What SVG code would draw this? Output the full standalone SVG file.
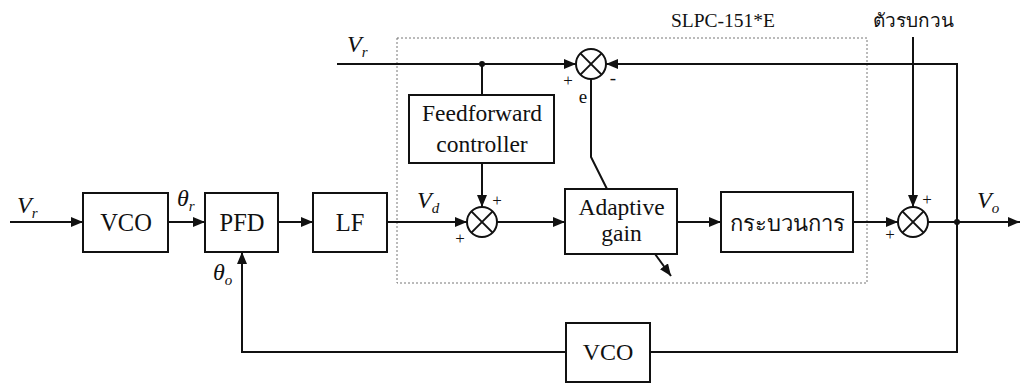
<svg xmlns="http://www.w3.org/2000/svg" width="1021" height="386" viewBox="0 0 1021 386">
<style>
.box{fill:#fff;stroke:#111;stroke-width:2}
.ln{fill:none;stroke:#111;stroke-width:2}
.sum circle{fill:#fff;stroke:#111;stroke-width:2}
.sum line{stroke:#111;stroke-width:2}
</style>
<defs>
<marker id="ah" viewBox="0 0 12 10" refX="12" refY="5" markerWidth="12" markerHeight="10" markerUnits="userSpaceOnUse" orient="auto">
<path d="M0,0 L12,5 L0,10 z" fill="#111"/>
</marker>
</defs>
<rect width="1021" height="386" fill="#fff"/>
<rect x="397" y="38" width="470" height="245" fill="none" stroke="#777" stroke-width="1" stroke-dasharray="2,2"/>
<text x="723" y="27" font-size="19.5" font-family="Liberation Serif" text-anchor="middle" fill="#111">SLPC-151*E</text>
<text x="913" y="27" font-size="19" font-family="Liberation Serif" text-anchor="middle" fill="#111">ตัวรบกวน</text>
<g id="connectors">
<line class="ln" x1="10" y1="222" x2="83" y2="222" marker-end="url(#ah)"/>
<line class="ln" x1="168" y1="222" x2="205" y2="222" marker-end="url(#ah)"/>
<line class="ln" x1="278" y1="222" x2="313" y2="222" marker-end="url(#ah)"/>
<line class="ln" x1="387" y1="222" x2="467" y2="222" marker-end="url(#ah)"/>
<line class="ln" x1="482" y1="163" x2="482" y2="207" marker-end="url(#ah)"/>
<line class="ln" x1="497" y1="222" x2="565" y2="222" marker-end="url(#ah)"/>
<line class="ln" x1="677" y1="222" x2="721" y2="222" marker-end="url(#ah)"/>
<line class="ln" x1="853" y1="222" x2="898" y2="222" marker-end="url(#ah)"/>
<line class="ln" x1="913" y1="37" x2="913" y2="207" marker-end="url(#ah)"/>
<line class="ln" x1="928" y1="222" x2="1020" y2="222" marker-end="url(#ah)"/>
<line class="ln" x1="337" y1="64" x2="576" y2="64" marker-end="url(#ah)"/>
<polyline class="ln" points="957,222 957,64 606,64" marker-end="url(#ah)"/>
<line class="ln" x1="482" y1="64" x2="482" y2="95"/>
<circle cx="482" cy="64" r="3" fill="#111"/>
<polyline class="ln" points="591,79 591,157 607,189"/>
<line class="ln" x1="655" y1="254" x2="671" y2="276" marker-end="url(#ah)"/>
<polyline class="ln" points="957,222 957,352 650,352"/>
<polyline class="ln" points="566,352 242,352 242,252" marker-end="url(#ah)"/>
<circle cx="957" cy="222" r="3" fill="#111"/>
</g>
<g id="vco1"><rect class="box" x="83" y="193" width="85" height="59"/><text x="126" y="231" font-size="24.5" font-family="Liberation Serif" text-anchor="middle" fill="#111">VCO</text></g>
<g id="pfd"><rect class="box" x="205" y="193" width="73" height="59"/><text x="242" y="231" font-size="24.5" font-family="Liberation Serif" text-anchor="middle" fill="#111">PFD</text></g>
<g id="lf"><rect class="box" x="313" y="193" width="74" height="59"/><text x="350" y="231" font-size="24.5" font-family="Liberation Serif" text-anchor="middle" fill="#111">LF</text></g>
<g id="ff"><rect class="box" x="409" y="95" width="145" height="68"/><text x="482" y="121" font-size="23.5" font-family="Liberation Serif" text-anchor="middle" fill="#111">Feedforward</text><text x="482" y="152" font-size="23.5" font-family="Liberation Serif" text-anchor="middle" fill="#111">controller</text></g>
<g id="adaptive"><rect class="box" x="565" y="189" width="112" height="65"/><text x="621.5" y="215" font-size="23.5" font-family="Liberation Serif" text-anchor="middle" fill="#111">Adaptive</text><text x="621.5" y="241" font-size="23.5" font-family="Liberation Serif" text-anchor="middle" fill="#111">gain</text></g>
<g id="process"><rect class="box" x="721" y="192" width="132" height="60"/><text x="787" y="231" font-size="22" font-family="Liberation Serif" text-anchor="middle" fill="#111">กระบวนการ</text></g>
<g id="vco2"><rect class="box" x="566" y="323" width="84" height="59"/><text x="608" y="360" font-size="24" font-family="Liberation Serif" text-anchor="middle" fill="#111">VCO</text></g>
<g id="sum1" class="sum"><circle cx="482" cy="222" r="15"/><line x1="471.4" y1="211.4" x2="492.6" y2="232.6"/><line x1="492.6" y1="211.4" x2="471.4" y2="232.6"/></g>
<g id="sum2" class="sum"><circle cx="591" cy="64" r="15"/><line x1="580.4" y1="53.4" x2="601.6" y2="74.6"/><line x1="601.6" y1="53.4" x2="580.4" y2="74.6"/></g>
<g id="sum3" class="sum"><circle cx="913" cy="222" r="15"/><line x1="902.4" y1="211.4" x2="923.6" y2="232.6"/><line x1="923.6" y1="211.4" x2="902.4" y2="232.6"/></g>
<g id="labels">
<text x="17" y="213" font-size="24" font-family="Liberation Serif" font-style="italic" fill="#111">V<tspan font-size="15" dy="5">r</tspan></text>
<text x="347" y="52" font-size="24" font-family="Liberation Serif" font-style="italic" fill="#111">V<tspan font-size="15" dy="5">r</tspan></text>
<text x="177" y="206" font-size="24" font-family="Liberation Serif" font-style="italic" fill="#111">θ<tspan font-size="15" dy="5">r</tspan></text>
<text x="213" y="280" font-size="24" font-family="Liberation Serif" font-style="italic" fill="#111">θ<tspan font-size="15" dy="5">o</tspan></text>
<text x="417" y="208" font-size="24" font-family="Liberation Serif" font-style="italic" fill="#111">V<tspan font-size="15" dy="5">d</tspan></text>
<text x="977" y="208" font-size="24" font-family="Liberation Serif" font-style="italic" fill="#111">V<tspan font-size="15" dy="5">o</tspan></text>
<text x="568" y="86" font-size="17" font-family="Liberation Serif" text-anchor="middle" fill="#111">+</text>
<text x="613" y="84" font-size="19" font-family="Liberation Serif" text-anchor="middle" fill="#111">-</text>
<text x="583" y="103" font-size="19" font-family="Liberation Serif" text-anchor="middle" fill="#111">e</text>
<text x="497" y="206" font-size="17" font-family="Liberation Serif" text-anchor="middle" fill="#111">+</text>
<text x="460" y="244" font-size="17" font-family="Liberation Serif" text-anchor="middle" fill="#111">+</text>
<text x="927" y="205" font-size="17" font-family="Liberation Serif" text-anchor="middle" fill="#111">+</text>
<text x="890" y="240" font-size="17" font-family="Liberation Serif" text-anchor="middle" fill="#111">+</text>
</g>
</svg>
